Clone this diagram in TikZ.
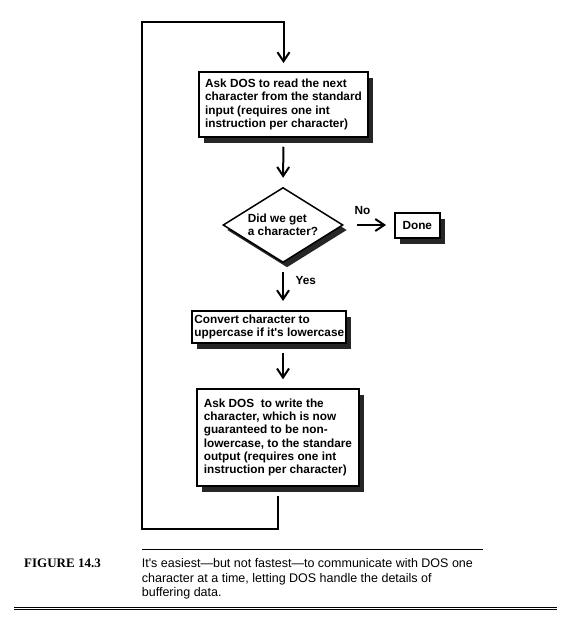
\documentclass[tikz,border=0pt]{standalone}
\usepackage{fontspec}
\setmainfont{Liberation Sans}
\newfontfamily\figfont{Liberation Serif}
\usetikzlibrary{shapes.geometric,shadows,arrows.meta}
\tikzset{
  flowfont/.style={font=\bfseries\fontsize{11.8}{13.3}\selectfont},
  flowbox/.style={draw,line width=2pt,fill=white,align=left,flowfont,
    drop shadow={shadow xshift=5pt,shadow yshift=-6pt,fill=black!85,opacity=1}},
  flowarrow/.style={line width=2pt,-{Straight Barb[length=9pt,width=12pt]},
    shorten <=9pt,shorten >=9pt},
  rulestyle/.style={line width=1.2pt},
}
\begin{document}
\begin{tikzpicture}[x=1pt,y=-1pt]
                \useasboundingbox (0,0) rectangle (569,626);
                %% boxes
                \node[flowbox,minimum width=168.4pt,minimum height=64.7pt] (readbox) at (283.5,104.4)
                    {Ask DOS to read the next\\character from the standard\\input (requires one int\\instruction per character)};
                \node[draw,shape=diamond,aspect=1.6,inner sep=0pt,minimum width=120pt,minimum height=75pt,
                    fill=white,line width=1.5pt,align=left,flowfont,
                    drop shadow={shadow xshift=4pt,shadow yshift=-5pt,fill=black!85,opacity=1}] (testdia) at (283,225)
                    {Did we get\\a character?};
                \node[flowbox,minimum width=44.4pt,minimum height=25.7pt,inner sep=0pt] (donebox) at (417.3,225.5) {Done};
                \node[flowbox,inner xsep=2pt,minimum width=142pt,minimum height=32pt] (convbox) at (269.3,327)
                    {Convert character to\\uppercase if it\textquotesingle s lowercase};
                \node[flowbox,minimum width=162.3pt,minimum height=96.4pt] (writebox) at (277.9,437.5)
                    {Ask DOS~ to write the\\character, which is now\\guaranteed to be non-\\lowercase, to the standare\\output (requires one int\\instruction per character)};
                %% labels
                \node[flowfont] (nolabel) at (362.5,210) {No};
                \node[flowfont] (yeslabel) at (305.7,280) {Yes};
                %% arrows
                \draw[flowarrow] (readbox.south) -- (testdia.north);
                \draw[flowarrow,shorten <=13pt,shorten >=8pt] (testdia.east) -- (testdia.east -| donebox.west);
                \draw[flowarrow] (testdia.south) -- (testdia.south |- convbox.north);
                \draw[flowarrow] (convbox.south -| testdia) -- (testdia |- writebox.north);
                %% loop back
                \coordinate (loopsw) at (142,529);
                \coordinate (loopnw) at (142,22);
                \draw[flowarrow,shorten >=8pt] (writebox.south) -- (writebox.south |- loopsw) -- (loopsw)
                    -- (loopnw) -- (loopnw -| readbox.north) -- (readbox.north);
                %% caption
                \draw[rulestyle] (142,549.3) -- (483,549.3);
                \node[font=\figfont\bfseries\fontsize{13}{15}\selectfont,anchor=base west,inner sep=0pt] (figlabel) at (24,567.3) {FIGURE 14.3};
                \node[font=\fontsize{12.5}{14.5}\selectfont,align=left,anchor=north west,inner sep=0pt] (figtext) at (141.7,558.3)
                    {It\textquotesingle s easiest---but not fastest---to communicate with DOS one\\character at a time, letting DOS handle the details of\\buffering data.};
                \foreach \y in {607.4,609.8} \draw[rulestyle] (14,\y) -- (557,\y);
            \end{tikzpicture}
\end{document}
